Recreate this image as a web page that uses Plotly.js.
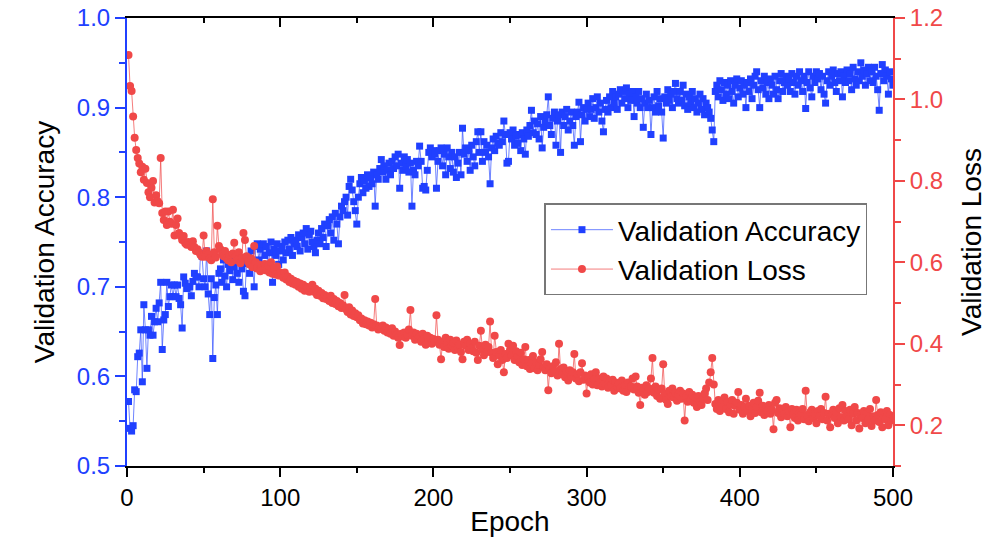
<!DOCTYPE html>
<html>
<head>
<meta charset="utf-8">
<script src="https://cdn.plot.ly/plotly-3.0.1.min.js"></script>
<style>html,body{margin:0;padding:0;background:#fff;}#chart{width:1004px;height:544px;}</style>
</head>
<body>
<div id="chart"></div>
<script>
// Epochs 1..500
const epochs = Array.from({length: 500}, (_, i) => i + 1);

const accuracy = [
0.572,0.542,0.539,0.545,0.585,0.583,0.622,0.626,0.652,0.594,
0.680,0.652,0.609,0.652,0.646,0.667,0.646,0.661,0.676,0.661,
0.682,0.705,0.630,0.663,0.669,0.705,0.678,0.689,0.702,0.689,
0.702,0.689,0.702,0.687,0.680,0.654,0.711,0.704,0.698,0.700,
0.700,0.690,0.706,0.715,0.711,0.711,0.700,0.737,0.734,0.709,
0.700,0.740,0.692,0.669,0.709,0.620,0.688,0.702,0.669,0.715,
0.720,0.705,0.730,0.712,0.700,0.725,0.718,0.735,0.708,0.722,
0.728,0.715,0.705,0.732,0.720,0.695,0.690,0.726,0.733,0.715,
0.740,0.722,0.700,0.745,0.748,0.730,0.742,0.725,0.748,0.735,
0.745,0.720,0.738,0.750,0.705,0.742,0.735,0.748,0.725,0.740,
0.745,0.730,0.750,0.738,0.752,0.742,0.755,0.735,0.748,0.752,
0.745,0.758,0.740,0.755,0.760,0.748,0.765,0.742,0.758,0.762,
0.750,0.745,0.738,0.752,0.760,0.748,0.765,0.755,0.770,0.745,
0.768,0.775,0.760,0.778,0.752,0.782,0.770,0.748,0.778,0.790,
0.785,0.795,0.800,0.780,0.812,0.820,0.808,0.795,0.785,0.770,
0.800,0.815,0.822,0.805,0.818,0.810,0.825,0.812,0.822,0.815,
0.828,0.790,0.825,0.820,0.832,0.842,0.828,0.835,0.820,0.830,
0.838,0.825,0.840,0.832,0.845,0.835,0.848,0.810,0.838,0.830,
0.845,0.835,0.842,0.828,0.838,0.790,0.830,0.825,0.840,0.835,
0.857,0.840,0.810,0.812,0.808,0.830,0.850,0.855,0.845,0.852,
0.848,0.810,0.840,0.852,0.855,0.835,0.848,0.825,0.855,0.845,
0.832,0.850,0.828,0.845,0.822,0.838,0.850,0.825,0.877,0.848,
0.855,0.840,0.852,0.830,0.858,0.845,0.835,0.862,0.873,0.850,
0.873,0.840,0.862,0.850,0.858,0.845,0.815,0.855,0.865,0.852,
0.868,0.860,0.858,0.872,0.862,0.885,0.870,0.838,0.840,0.872,
0.865,0.875,0.858,0.868,0.860,0.870,0.852,0.872,0.865,0.848,
0.875,0.868,0.880,0.897,0.872,0.885,0.870,0.882,0.865,0.890,
0.855,0.878,0.885,0.892,0.912,0.880,0.870,0.888,0.895,0.858,
0.885,0.892,0.850,0.895,0.880,0.890,0.898,0.875,0.885,0.895,
0.880,0.858,0.890,0.895,0.906,0.862,0.892,0.900,0.885,0.898,
0.905,0.890,0.898,0.910,0.888,0.900,0.912,0.895,0.905,0.885,
0.873,0.898,0.908,0.895,0.912,0.900,0.918,0.905,0.912,0.898,
0.915,0.920,0.905,0.918,0.910,0.922,0.900,0.915,0.908,0.918,
0.890,0.912,0.905,0.918,0.900,0.910,0.878,0.905,0.915,0.900,
0.908,0.870,0.900,0.912,0.895,0.918,0.902,0.910,0.895,0.866,
0.912,0.905,0.920,0.908,0.915,0.900,0.918,0.927,0.910,0.905,
0.918,0.908,0.925,0.902,0.915,0.898,0.912,0.905,0.918,0.900,
0.910,0.895,0.905,0.915,0.898,0.910,0.892,0.905,0.900,0.895,
0.888,0.875,0.862,0.918,0.925,0.912,0.930,0.920,0.908,0.928,
0.915,0.925,0.910,0.930,0.918,0.905,0.925,0.932,0.912,0.922,
0.930,0.915,0.925,0.900,0.928,0.918,0.932,0.910,0.925,0.935,
0.940,0.920,0.900,0.930,0.922,0.935,0.915,0.928,0.910,0.932,
0.925,0.915,0.935,0.920,0.910,0.930,0.938,0.918,0.928,0.935,
0.925,0.932,0.918,0.938,0.928,0.915,0.935,0.925,0.940,0.930,
0.918,0.935,0.899,0.928,0.940,0.922,0.912,0.935,0.928,0.940,
0.932,0.938,0.920,0.935,0.915,0.905,0.930,0.940,0.925,0.935,
0.942,0.928,0.918,0.938,0.930,0.940,0.912,0.935,0.928,0.942,
0.930,0.938,0.920,0.945,0.932,0.925,0.940,0.930,0.950,0.935,
0.942,0.925,0.938,0.945,0.930,0.940,0.928,0.945,0.935,0.920,
0.897,0.938,0.948,0.930,0.942,0.935,0.915,0.940,0.932,0.925
];

const loss = [
1.109,1.033,1.021,0.958,0.906,0.876,0.856,0.843,0.821,0.835,
0.803,0.830,0.795,0.772,0.760,0.783,0.800,0.747,0.765,0.750,
0.745,0.856,0.721,0.704,0.725,0.692,0.725,0.700,0.695,0.729,
0.666,0.692,0.708,0.672,0.665,0.655,0.665,0.647,0.643,0.650,
0.643,0.638,0.652,0.638,0.628,0.632,0.625,0.618,0.614,0.666,
0.614,0.628,0.620,0.610,0.605,0.755,0.625,0.612,0.690,0.640,
0.632,0.620,0.615,0.628,0.610,0.605,0.618,0.600,0.622,0.648,
0.615,0.605,0.625,0.598,0.612,0.672,0.655,0.615,0.602,0.595,
0.610,0.588,0.640,0.600,0.585,0.595,0.578,0.590,0.582,0.596,
0.580,0.592,0.575,0.600,0.572,0.585,0.570,0.590,0.568,0.575,
0.570,0.562,0.575,0.558,0.565,0.552,0.560,0.548,0.555,0.545,
0.552,0.540,0.548,0.535,0.545,0.530,0.540,0.538,0.528,0.535,
0.545,0.528,0.535,0.520,0.530,0.518,0.525,0.512,0.520,0.510,
0.515,0.505,0.518,0.500,0.510,0.498,0.505,0.492,0.500,0.488,
0.495,0.520,0.485,0.478,0.490,0.472,0.482,0.468,0.475,0.465,
0.470,0.458,0.462,0.450,0.458,0.448,0.455,0.445,0.452,0.440,
0.448,0.510,0.445,0.435,0.442,0.438,0.445,0.432,0.440,0.428,
0.435,0.425,0.438,0.420,0.430,0.422,0.415,0.397,0.425,0.418,
0.428,0.415,0.422,0.435,0.483,0.420,0.428,0.410,0.425,0.412,
0.418,0.405,0.425,0.412,0.398,0.420,0.408,0.415,0.400,0.412,
0.405,0.470,0.410,0.398,0.362,0.405,0.392,0.415,0.400,0.388,
0.410,0.395,0.402,0.385,0.408,0.390,0.398,0.380,0.362,0.405,
0.395,0.410,0.385,0.400,0.390,0.382,0.405,0.378,0.360,0.395,
0.432,0.385,0.372,0.398,0.380,0.392,0.455,0.378,0.365,0.420,
0.380,0.350,0.372,0.385,0.360,0.330,0.375,0.365,0.400,0.385,
0.372,0.395,0.360,0.382,0.368,0.355,0.378,0.348,0.362,0.392,
0.345,0.360,0.338,0.352,0.370,0.340,0.355,0.335,0.348,0.362,
0.380,0.342,0.335,0.350,0.286,0.340,0.328,0.345,0.332,0.355,
0.322,0.400,0.338,0.325,0.342,0.318,0.332,0.310,0.335,0.320,
0.330,0.375,0.315,0.325,0.308,0.330,0.352,0.312,0.322,0.278,
0.318,0.305,0.325,0.300,0.312,0.330,0.298,0.315,0.305,0.295,
0.320,0.302,0.315,0.292,0.308,0.298,0.312,0.285,0.305,0.295,
0.302,0.290,0.310,0.285,0.298,0.282,0.305,0.290,0.295,0.315,
0.288,0.320,0.295,0.280,0.250,0.292,0.285,0.275,0.298,0.282,
0.290,0.315,0.365,0.280,0.295,0.272,0.288,0.265,0.290,0.350,
0.278,0.262,0.252,0.285,0.270,0.290,0.268,0.280,0.260,0.275,
0.285,0.265,0.278,0.212,0.270,0.258,0.282,0.262,0.275,0.255,
0.268,0.245,0.272,0.258,0.250,0.265,0.278,0.290,0.262,0.305,
0.330,0.365,0.300,0.252,0.240,0.262,0.235,0.255,0.245,0.268,
0.240,0.258,0.232,0.250,0.262,0.228,0.248,0.255,0.282,0.238,
0.250,0.228,0.245,0.265,0.235,0.248,0.222,0.240,0.255,0.230,
0.245,0.260,0.280,0.232,0.248,0.225,0.242,0.235,0.250,0.228,
0.238,0.190,0.255,0.262,0.230,0.242,0.220,0.238,0.228,0.245,
0.222,0.235,0.195,0.240,0.228,0.218,0.238,0.212,0.230,0.225,
0.240,0.215,0.285,0.225,0.210,0.232,0.238,0.218,0.228,0.205,
0.235,0.222,0.240,0.215,0.230,0.270,0.212,0.228,0.195,0.225,
0.238,0.218,0.232,0.205,0.242,0.220,0.250,0.212,0.235,0.222,
0.215,0.238,0.200,0.228,0.245,0.212,0.230,0.192,0.225,0.218,
0.235,0.205,0.228,0.215,0.240,0.198,0.222,0.212,0.262,0.225,
0.208,0.232,0.195,0.220,0.215,0.235,0.200,0.225,0.212,0.218
];

const seriesNames = ["Validation Accuracy", "Validation Loss"];
const xTitle = "Epoch";
const yTitle = "Validation Accuracy";
const y2Title = "Validation Loss";

const FONT = "Arial, 'Liberation Sans', sans-serif";
const BLUE = "#2040ff";
const RED = "#f04848";

const traces = [
  {
    x: epochs, y: accuracy, name: seriesNames[0], type: "scatter", mode: "lines+markers",
    line: {color: "rgba(50,80,255,0.7)", width: 1},
    marker: {symbol: "square", size: 7, color: BLUE},
    xaxis: "x", yaxis: "y"
  },
  {
    x: epochs, y: loss, name: seriesNames[1], type: "scatter", mode: "lines+markers",
    line: {color: "rgba(240,70,70,0.7)", width: 1},
    marker: {symbol: "circle", size: 8, color: RED},
    xaxis: "x", yaxis: "y2"
  },
  {
    // empty helper so the top (mirror) axis with inward ticks is drawn
    x: [null], y: [null], type: "scatter", mode: "markers",
    xaxis: "x2", yaxis: "y", showlegend: false, hoverinfo: "skip"
  }
];

const layout = {
  width: 1004, height: 544,
  margin: {l: 127, r: 111, t: 18, b: 78},
  paper_bgcolor: "#fff", plot_bgcolor: "#fff",
  font: {family: FONT, color: "#000"},
  showlegend: true,
  legend: {
    x: 0.545, y: 0.586, xanchor: "left", yanchor: "top",
    bgcolor: "#fff", bordercolor: "#777", borderwidth: 1.5,
    font: {family: FONT, size: 28, color: "#000"},
    itemwidth: 62,
    tracegroupgap: 0
  },
  xaxis: {
    range: [0, 500], dtick: 100, tick0: 0,
    showgrid: false, zeroline: false,
    showline: true, linecolor: "#000", linewidth: 2, mirror: true,
    ticks: "outside", ticklen: 9, tickwidth: 2, tickcolor: "#000",
    minor: {ticks: "outside", ticklen: 5, tickwidth: 2, tickcolor: "#000", dtick: 50, tick0: 0, showgrid: false},
    tickfont: {family: FONT, size: 24, color: "#000"},
    title: {text: xTitle, font: {family: FONT, size: 28, color: "#000"}, standoff: 2}
  },
  xaxis2: {
    overlaying: "x", side: "top", anchor: "y",
    range: [0, 500], dtick: 100, tick0: 0,
    showgrid: false, zeroline: false, showline: false,
    showticklabels: false,
    ticks: "inside", ticklen: 9, tickwidth: 2, tickcolor: "#000",
    minor: {ticks: "inside", ticklen: 5, tickwidth: 2, tickcolor: "#000", dtick: 50, tick0: 0, showgrid: false}
  },
  yaxis: {
    range: [0.5, 1.0], dtick: 0.1, tick0: 0, tickformat: ".1f",
    showgrid: false, zeroline: false,
    showline: true, linecolor: BLUE, linewidth: 2,
    ticks: "outside", ticklen: 10, tickwidth: 2, tickcolor: BLUE,
    minor: {ticks: "outside", ticklen: 6, tickwidth: 2, tickcolor: BLUE, dtick: 0.05, tick0: 0, showgrid: false},
    tickfont: {family: FONT, size: 24, color: BLUE},
    title: {text: yTitle, font: {family: FONT, size: 28, color: "#000"}, standoff: 14}
  },
  yaxis2: {
    overlaying: "y", side: "right", anchor: "x",
    range: [0.1, 1.2], dtick: 0.2, tick0: 0, tickformat: ".1f",
    showgrid: false, zeroline: false,
    showline: true, linecolor: RED, linewidth: 2,
    ticks: "outside", ticklen: 10, tickwidth: 2, tickcolor: RED,
    minor: {ticks: "outside", ticklen: 6, tickwidth: 2, tickcolor: RED, dtick: 0.1, tick0: 0, showgrid: false},
    tickfont: {family: FONT, size: 24, color: RED},
    title: {text: y2Title, font: {family: FONT, size: 28, color: "#000"}, standoff: 19}
  }
};

Plotly.newPlot("chart", traces, layout, {displayModeBar: false, staticPlot: true});
</script>
</body>
</html>
